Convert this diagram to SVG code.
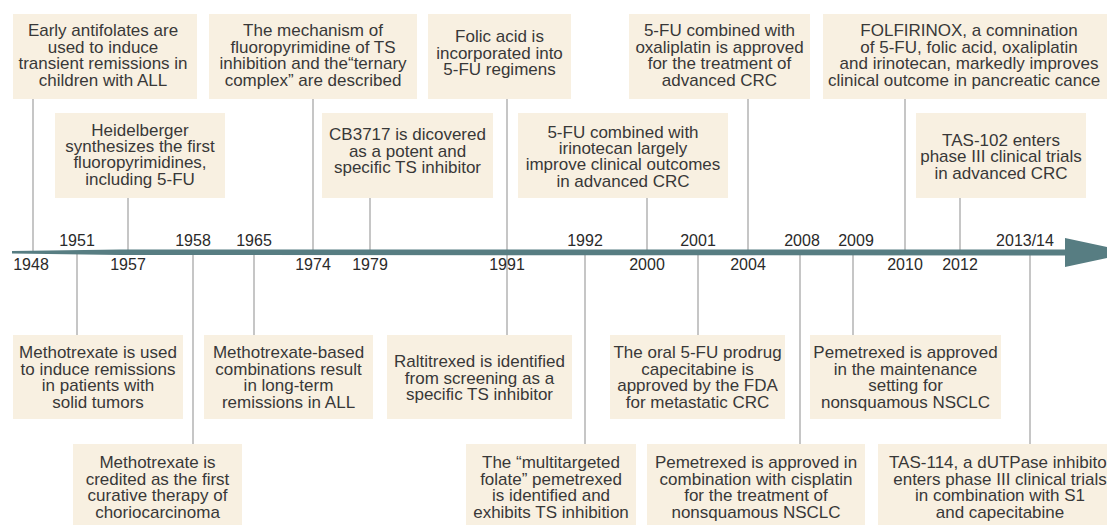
<svg xmlns="http://www.w3.org/2000/svg" width="1107" height="525" viewBox="0 0 1107 525">
<style>
.box{fill:#f8f0e1;}
.t{font-family:"Liberation Sans",Arial,sans-serif;font-size:17px;fill:#383838;text-anchor:middle;}
.y{font-family:"Liberation Sans",Arial,sans-serif;font-size:16px;fill:#2a2a2a;text-anchor:middle;}
.c{stroke:#a0a0a0;stroke-width:1.2;fill:none;}
</style>
<rect width="1107" height="525" fill="#ffffff"/>
<g id="connectors">
<line class="c" x1="33" y1="99" x2="33" y2="251"/>
<line class="c" x1="128" y1="198" x2="128" y2="251"/>
<line class="c" x1="313" y1="99" x2="313" y2="251"/>
<line class="c" x1="370" y1="198" x2="370" y2="251"/>
<line class="c" x1="507" y1="99" x2="507" y2="335"/>
<line class="c" x1="647" y1="198" x2="647" y2="251"/>
<line class="c" x1="748" y1="99" x2="748" y2="251"/>
<line class="c" x1="905" y1="99" x2="905" y2="251"/>
<line class="c" x1="960" y1="198" x2="960" y2="251"/>
<line class="c" x1="77" y1="253" x2="77" y2="335"/>
<line class="c" x1="193" y1="253" x2="193" y2="444"/>
<line class="c" x1="254" y1="253" x2="254" y2="335"/>
<line class="c" x1="585" y1="253" x2="585" y2="444"/>
<line class="c" x1="698" y1="253" x2="698" y2="335"/>
<line class="c" x1="800" y1="253" x2="800" y2="444"/>
<line class="c" x1="853" y1="253" x2="853" y2="335"/>
<line class="c" x1="1030" y1="253" x2="1030" y2="444"/>
</g>
<g id="timeline">
<path d="M12,251 L120,249.6 L1066,249.5 L1066,255.5 L120,255 L12,253.5 Z" fill="#577d82"/>
<path d="M1065,238 L1133,252.5 L1065,267 Z" fill="#577d82"/>
<text class="y" x="77" y="246">1951</text>
<text class="y" x="193" y="246">1958</text>
<text class="y" x="254" y="246">1965</text>
<text class="y" x="585" y="246">1992</text>
<text class="y" x="698" y="246">2001</text>
<text class="y" x="802" y="246">2008</text>
<text class="y" x="856" y="246">2009</text>
<text class="y" x="1025" y="246">2013/14</text>
<text class="y" x="31" y="270">1948</text>
<text class="y" x="128" y="270">1957</text>
<text class="y" x="313" y="270">1974</text>
<text class="y" x="370" y="270">1979</text>
<text class="y" x="507" y="270">1991</text>
<text class="y" x="647" y="270">2000</text>
<text class="y" x="748" y="270">2004</text>
<text class="y" x="905" y="270">2010</text>
<text class="y" x="960" y="270">2012</text>
</g>
<g id="n1948">
<rect class="box" x="13" y="14" width="184" height="85"/>
<text class="t" x="103" y="36">Early antifolates are</text>
<text class="t" x="103" y="52.5">used to induce</text>
<text class="t" x="103" y="69">transient remissions in</text>
<text class="t" x="103" y="85.5">children with ALL</text>
</g>
<g id="n1974">
<rect class="box" x="209" y="14" width="208" height="85"/>
<text class="t" x="313" y="36">The mechanism of</text>
<text class="t" x="313" y="52.5">fluoropyrimidine of TS</text>
<text class="t" x="313" y="69">inhibition and the“ternary</text>
<text class="t" x="313" y="85.5">complex” are described</text>
</g>
<g id="n1991a">
<rect class="box" x="428" y="14" width="143" height="85"/>
<text class="t" x="499.5" y="42">Folic acid is</text>
<text class="t" x="499.5" y="58.5">incorporated into</text>
<text class="t" x="499.5" y="75">5-FU regimens</text>
</g>
<g id="n2004">
<rect class="box" x="629" y="14" width="181" height="85"/>
<text class="t" x="719.5" y="36">5-FU combined with</text>
<text class="t" x="719.5" y="52.5">oxaliplatin is approved</text>
<text class="t" x="719.5" y="69">for the treatment of</text>
<text class="t" x="719.5" y="85.5">advanced CRC</text>
</g>
<g id="n2010">
<rect class="box" x="823" y="14" width="284" height="85"/>
<text class="t" x="969" y="36">FOLFIRINOX, a comnination</text>
<text class="t" x="969" y="52.5">of 5-FU, folic acid, oxaliplatin</text>
<text class="t" x="969" y="69">and irinotecan, markedly improves</text>
<text class="t" x="828" y="85.5" style="text-anchor:start">clinical outcome in pancreatic cance</text>
</g>
<g id="n1957">
<rect class="box" x="55" y="113" width="170" height="85"/>
<text class="t" x="140" y="136">Heidelberger</text>
<text class="t" x="140" y="152">synthesizes the first</text>
<text class="t" x="140" y="168">fluoropyrimidines,</text>
<text class="t" x="140" y="184.5">including 5-FU</text>
</g>
<g id="n1979">
<rect class="box" x="322" y="113" width="171" height="85"/>
<text class="t" x="407.5" y="140">CB3717 is dicovered</text>
<text class="t" x="407.5" y="156.5">as a potent and</text>
<text class="t" x="407.5" y="173">specific TS inhibitor</text>
</g>
<g id="n2000">
<rect class="box" x="518" y="113" width="210" height="85"/>
<text class="t" x="623" y="137.5">5-FU combined with</text>
<text class="t" x="623" y="154">irinotecan largely</text>
<text class="t" x="623" y="170">improve clinical outcomes</text>
<text class="t" x="623" y="186.5">in advanced CRC</text>
</g>
<g id="n2012">
<rect class="box" x="916" y="113" width="170" height="85"/>
<text class="t" x="1001" y="145.5">TAS-102 enters</text>
<text class="t" x="1001" y="162">phase III clinical trials</text>
<text class="t" x="1001" y="178.5">in advanced CRC</text>
</g>
<g id="n1951">
<rect class="box" x="13" y="335" width="170" height="84"/>
<text class="t" x="98" y="358">Methotrexate is used</text>
<text class="t" x="98" y="374.5">to induce remissions</text>
<text class="t" x="98" y="391">in patients with</text>
<text class="t" x="98" y="407.5">solid tumors</text>
</g>
<g id="n1965">
<rect class="box" x="204" y="335" width="169" height="84"/>
<text class="t" x="288.5" y="358">Methotrexate-based</text>
<text class="t" x="288.5" y="374.5">combinations result</text>
<text class="t" x="288.5" y="391">in long-term</text>
<text class="t" x="288.5" y="407.5">remissions in ALL</text>
</g>
<g id="n1991b">
<rect class="box" x="387" y="335" width="185" height="84"/>
<text class="t" x="479.5" y="367">Raltitrexed is identified</text>
<text class="t" x="479.5" y="383.5">from screening as a</text>
<text class="t" x="479.5" y="400">specific TS inhibitor</text>
</g>
<g id="n2001">
<rect class="box" x="610" y="335" width="175" height="84"/>
<text class="t" x="697.5" y="358">The oral 5-FU prodrug</text>
<text class="t" x="697.5" y="374.5">capecitabine is</text>
<text class="t" x="697.5" y="391">approved by the FDA</text>
<text class="t" x="697.5" y="407.5">for metastatic CRC</text>
</g>
<g id="n2009">
<rect class="box" x="810" y="335" width="191" height="84"/>
<text class="t" x="905.5" y="358">Pemetrexed is approved</text>
<text class="t" x="905.5" y="374.5">in the maintenance</text>
<text class="t" x="905.5" y="391">setting for</text>
<text class="t" x="905.5" y="407.5">nonsquamous NSCLC</text>
</g>
<g id="n1958">
<rect class="box" x="73" y="444" width="169" height="81"/>
<text class="t" x="157.5" y="468">Methotrexate is</text>
<text class="t" x="157.5" y="484.5">credited as the first</text>
<text class="t" x="157.5" y="501">curative therapy of</text>
<text class="t" x="157.5" y="517.5">choriocarcinoma</text>
</g>
<g id="n1992">
<rect class="box" x="466" y="444" width="170" height="81"/>
<text class="t" x="551" y="468">The “multitargeted</text>
<text class="t" x="551" y="484.5">folate” pemetrexed</text>
<text class="t" x="551" y="501">is identified and</text>
<text class="t" x="551" y="517.5">exhibits TS inhibition</text>
</g>
<g id="n2008">
<rect class="box" x="647" y="444" width="218" height="81"/>
<text class="t" x="756" y="468">Pemetrexed is approved in</text>
<text class="t" x="756" y="484.5">combination with cisplatin</text>
<text class="t" x="756" y="501">for the treatment of</text>
<text class="t" x="756" y="517.5">nonsquamous NSCLC</text>
</g>
<g id="n2013">
<rect class="box" x="878" y="444" width="229" height="81"/>
<text class="t" x="889" y="468" style="text-anchor:start">TAS-114, a dUTPase inhibito</text>
<text class="t" x="1000" y="484.5">enters phase III clinical trials</text>
<text class="t" x="1000" y="501">in combination with S1</text>
<text class="t" x="1000" y="517.5">and capecitabine</text>
</g>
</svg>
